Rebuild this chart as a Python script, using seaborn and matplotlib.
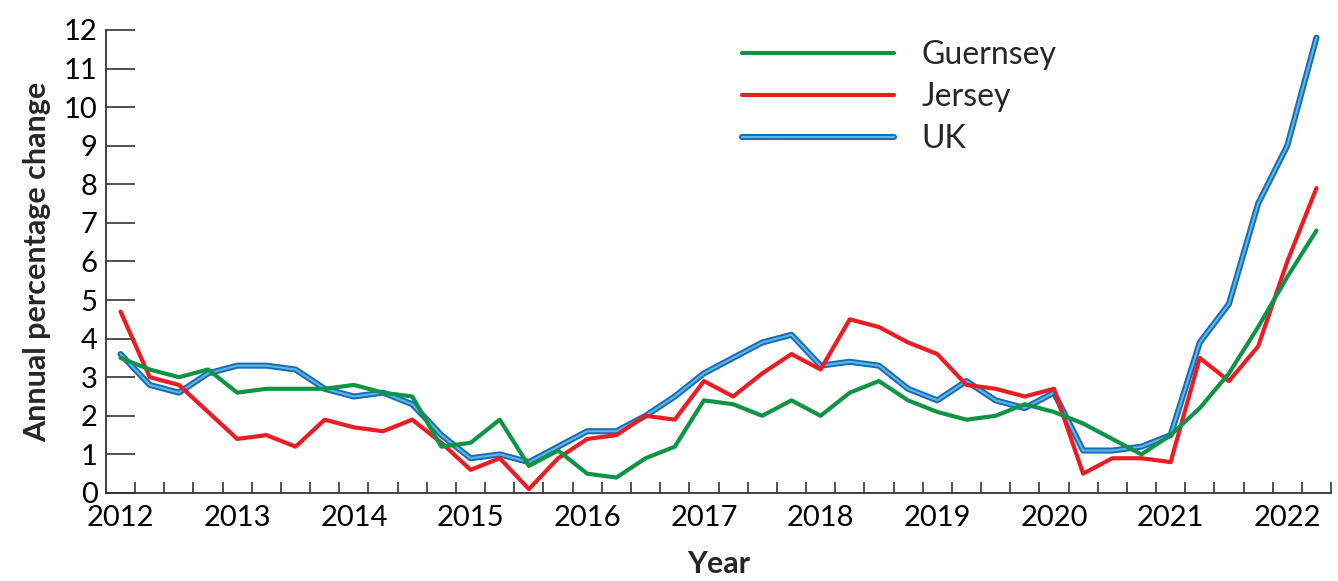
"""
Annual percentage change (quarterly) for Guernsey, Jersey and the UK, 2012-2022.
"""

import matplotlib
matplotlib.use("Agg")
import matplotlib.pyplot as plt
import matplotlib.patheffects as pe
import pandas as pd
import seaborn as sns

# Quarterly positions 2012 Q1 .. 2022 Q2
quarters = [year + q / 4 for year in range(2012, 2023) for q in range(4)][:42]
years = list(range(2012, 2023))

guernsey = [3.5, 3.2, 3.0, 3.2, 2.6, 2.7, 2.7, 2.7, 2.8, 2.6, 2.5, 1.2,
            1.3, 1.9, 0.7, 1.1, 0.5, 0.4, 0.9, 1.2, 2.4, 2.3, 2.0, 2.4,
            2.0, 2.6, 2.9, 2.4, 2.1, 1.9, 2.0, 2.3, 2.1, 1.8, 1.4, 1.0,
            1.5, 2.2, 3.1, 4.3, 5.6, 6.8]
jersey = [4.7, 3.0, 2.8, 2.1, 1.4, 1.5, 1.2, 1.9, 1.7, 1.6, 1.9, 1.3,
          0.6, 0.9, 0.1, 0.9, 1.4, 1.5, 2.0, 1.9, 2.9, 2.5, 3.1, 3.6,
          3.2, 4.5, 4.3, 3.9, 3.6, 2.8, 2.7, 2.5, 2.7, 0.5, 0.9, 0.9,
          0.8, 3.5, 2.9, 3.8, 6.0, 7.9]
uk = [3.6, 2.8, 2.6, 3.1, 3.3, 3.3, 3.2, 2.7, 2.5, 2.6, 2.3, 1.5,
      0.9, 1.0, 0.8, 1.2, 1.6, 1.6, 2.0, 2.5, 3.1, 3.5, 3.9, 4.1,
      3.3, 3.4, 3.3, 2.7, 2.4, 2.9, 2.4, 2.2, 2.6, 1.1, 1.1, 1.2,
      1.5, 3.9, 4.9, 7.5, 9.0, 11.8]

GREEN = "#0f9447"
RED = "#ec1c24"
BLUE_DARK = "#1b6cb3"
BLUE_LIGHT = "#5ab8ec"
AXIS = "#333333"

sns.set_theme(style="white")
plt.rcParams["font.family"] = ["Lato", "DejaVu Sans"]

df = pd.DataFrame({"quarter": quarters, "Guernsey": guernsey,
                   "Jersey": jersey, "UK": uk})

fig = plt.figure(figsize=(13.38, 5.81), dpi=100)
ax = fig.add_axes([0.0792, 0.1515, 0.9156, 0.797])

# UK drawn first (bottom), then Jersey, then Guernsey on top
sns.lineplot(data=df, x="quarter", y="UK", ax=ax, color=BLUE_LIGHT,
             linewidth=1.5, label="UK", zorder=2)
sns.lineplot(data=df, x="quarter", y="Jersey", ax=ax, color=RED,
             linewidth=3.0, label="Jersey", zorder=3)
sns.lineplot(data=df, x="quarter", y="Guernsey", ax=ax, color=GREEN,
             linewidth=3.0, label="Guernsey", zorder=4)

uk_line = ax.lines[0]
uk_line.set_path_effects([pe.Stroke(linewidth=4.4, foreground=BLUE_DARK),
                          pe.Normal()])

ax.set_xlim(2011.875, 2022.375)
ax.set_ylim(0, 12)

# year labels without marks, quarter tick marks between points
ax.set_xticks(years)
ax.set_xticklabels([str(y) for y in years])
ax.set_xticks([q + 0.125 for q in quarters], minor=True)
ax.tick_params(axis="x", which="major", length=0, pad=9, labelsize=21,
               colors="black")
ax.tick_params(axis="x", which="minor", direction="in", length=8,
               width=1.2, color=AXIS, bottom=True)

ax.set_yticks(range(0, 13))
ax.tick_params(axis="y", which="major", direction="in", length=21,
               width=1.2, color=AXIS, labelsize=21, pad=6, left=True,
               labelcolor="black")

sns.despine(ax=ax)
for side in ["left", "bottom"]:
    ax.spines[side].set_color(AXIS)
    ax.spines[side].set_linewidth(1.3)

ax.set_xlabel("Year", fontsize=22, fontweight="bold", labelpad=13)
ax.set_ylabel("Annual percentage change", fontsize=22, fontweight="bold",
              labelpad=9)

handles, labels = ax.get_legend_handles_labels()
order = [labels.index(n) for n in ["Guernsey", "Jersey", "UK"]]
ax.legend([handles[i] for i in order], [labels[i] for i in order],
          loc="upper left", bbox_to_anchor=(0.496, 1.04), frameon=False,
          fontsize=23, handlelength=4.75, handletextpad=0.85,
          labelspacing=0.38)

fig.savefig("out.png", dpi=100)
plt.close(fig)
